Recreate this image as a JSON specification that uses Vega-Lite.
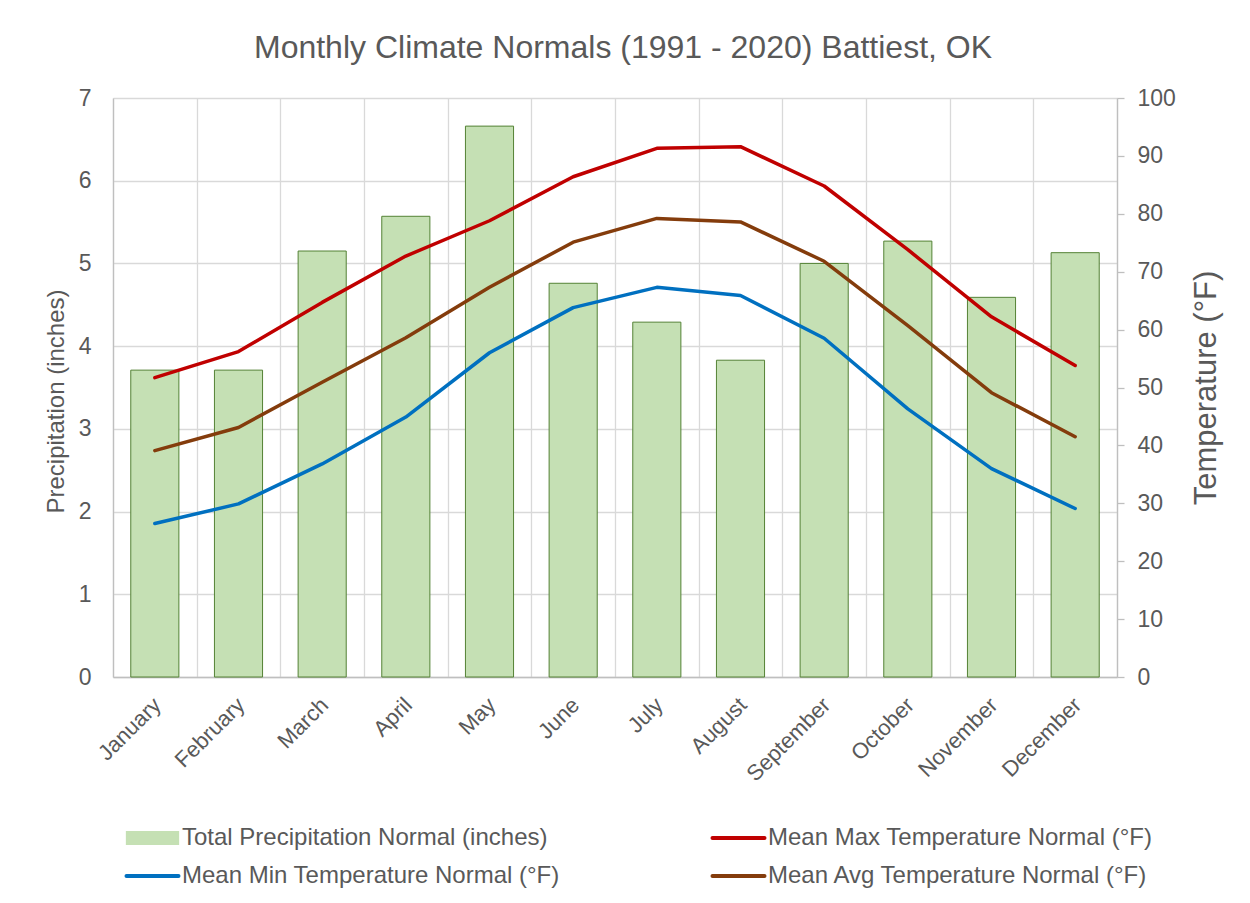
{
  "$schema": "https://vega.github.io/schema/vega-lite/v6.json",
  "width": 1004,
  "height": 579,
  "autosize": {"type": "none"},
  "padding": {"left": 113, "top": 98, "right": 133, "bottom": 226},
  "background": "white",
  "config": {"font": "Liberation Sans", "view": {"stroke": null}},
  "title": {
    "text": "Monthly Climate Normals (1991 - 2020) Battiest, OK",
    "fontSize": 32,
    "fontWeight": "normal",
    "color": "#595959",
    "anchor": "middle",
    "frame": "group",
    "offset": 22,
    "dx": 8
  },
  "datasets": {
    "precip": [
      {"month": "January", "precip": 3.71},
      {"month": "February", "precip": 3.71},
      {"month": "March", "precip": 5.15},
      {"month": "April", "precip": 5.57},
      {"month": "May", "precip": 6.66},
      {"month": "June", "precip": 4.76},
      {"month": "July", "precip": 4.29},
      {"month": "August", "precip": 3.83},
      {"month": "September", "precip": 5.0},
      {"month": "October", "precip": 5.27},
      {"month": "November", "precip": 4.59},
      {"month": "December", "precip": 5.13}
    ],
    "temps": [
      {"month": "January", "series": "Mean Max Temperature Normal (°F)", "temp": 51.7},
      {"month": "February", "series": "Mean Max Temperature Normal (°F)", "temp": 56.2},
      {"month": "March", "series": "Mean Max Temperature Normal (°F)", "temp": 64.7},
      {"month": "April", "series": "Mean Max Temperature Normal (°F)", "temp": 72.7},
      {"month": "May", "series": "Mean Max Temperature Normal (°F)", "temp": 78.8},
      {"month": "June", "series": "Mean Max Temperature Normal (°F)", "temp": 86.4},
      {"month": "July", "series": "Mean Max Temperature Normal (°F)", "temp": 91.3},
      {"month": "August", "series": "Mean Max Temperature Normal (°F)", "temp": 91.6},
      {"month": "September", "series": "Mean Max Temperature Normal (°F)", "temp": 84.8},
      {"month": "October", "series": "Mean Max Temperature Normal (°F)", "temp": 73.8},
      {"month": "November", "series": "Mean Max Temperature Normal (°F)", "temp": 62.2},
      {"month": "December", "series": "Mean Max Temperature Normal (°F)", "temp": 53.8},
      {"month": "January", "series": "Mean Avg Temperature Normal (°F)", "temp": 39.1},
      {"month": "February", "series": "Mean Avg Temperature Normal (°F)", "temp": 43.1},
      {"month": "March", "series": "Mean Avg Temperature Normal (°F)", "temp": 50.9},
      {"month": "April", "series": "Mean Avg Temperature Normal (°F)", "temp": 58.6},
      {"month": "May", "series": "Mean Avg Temperature Normal (°F)", "temp": 67.3},
      {"month": "June", "series": "Mean Avg Temperature Normal (°F)", "temp": 75.1},
      {"month": "July", "series": "Mean Avg Temperature Normal (°F)", "temp": 79.2},
      {"month": "August", "series": "Mean Avg Temperature Normal (°F)", "temp": 78.6},
      {"month": "September", "series": "Mean Avg Temperature Normal (°F)", "temp": 71.8},
      {"month": "October", "series": "Mean Avg Temperature Normal (°F)", "temp": 60.7},
      {"month": "November", "series": "Mean Avg Temperature Normal (°F)", "temp": 49.1},
      {"month": "December", "series": "Mean Avg Temperature Normal (°F)", "temp": 41.5},
      {"month": "January", "series": "Mean Min Temperature Normal (°F)", "temp": 26.5},
      {"month": "February", "series": "Mean Min Temperature Normal (°F)", "temp": 29.9},
      {"month": "March", "series": "Mean Min Temperature Normal (°F)", "temp": 36.8},
      {"month": "April", "series": "Mean Min Temperature Normal (°F)", "temp": 44.9},
      {"month": "May", "series": "Mean Min Temperature Normal (°F)", "temp": 56.0},
      {"month": "June", "series": "Mean Min Temperature Normal (°F)", "temp": 63.8},
      {"month": "July", "series": "Mean Min Temperature Normal (°F)", "temp": 67.3},
      {"month": "August", "series": "Mean Min Temperature Normal (°F)", "temp": 65.9},
      {"month": "September", "series": "Mean Min Temperature Normal (°F)", "temp": 58.5},
      {"month": "October", "series": "Mean Min Temperature Normal (°F)", "temp": 46.3},
      {"month": "November", "series": "Mean Min Temperature Normal (°F)", "temp": 36.0},
      {"month": "December", "series": "Mean Min Temperature Normal (°F)", "temp": 29.1}
    ]
  },
  "encoding": {
    "x": {
      "field": "month",
      "type": "nominal",
      "sort": null,
      "scale": {
        "domain": ["January", "February", "March", "April", "May", "June", "July", "August", "September", "October", "November", "December"],
        "paddingInner": 0,
        "paddingOuter": 0
      },
      "axis": {
        "title": null,
        "labelAngle": -45,
        "labelFontSize": 22,
        "labelColor": "#595959",
        "ticks": false,
        "tickSize": 0,
        "labelPadding": 17,
        "labelOffset": -5,
        "domainColor": "#bfbfbf",
        "domainWidth": 1.3,
        "grid": true,
        "gridColor": "#d9d9d9",
        "gridWidth": 1.3,
        "tickBand": "extent"
      }
    }
  },
  "layer": [
    {
      "data": {"name": "precip"},
      "mark": {"type": "bar", "width": {"band": 0.575}, "stroke": "#548235", "strokeWidth": 1},
      "encoding": {
        "y": {
          "field": "precip",
          "type": "quantitative",
          "scale": {"domain": [0, 7], "nice": false},
          "axis": {
            "orient": "left",
            "title": "Precipitation (inches)",
            "titleFontSize": 24,
            "titleFontWeight": "normal",
            "titleColor": "#595959",
            "titlePadding": 10,
            "titleY": 303,
            "labelFontSize": 23,
            "labelColor": "#595959",
            "labelPadding": 22,
            "ticks": false,
            "tickSize": 0,
            "domainColor": "#bfbfbf",
            "domainWidth": 1.3,
            "grid": true,
            "gridColor": "#d9d9d9",
            "gridWidth": 1.3,
            "values": [0, 1, 2, 3, 4, 5, 6, 7]
          }
        },
        "color": {
          "datum": "Total Precipitation Normal (inches)",
          "type": "nominal",
          "scale": {
            "domain": ["Total Precipitation Normal (inches)", "Mean Max Temperature Normal (°F)", "Mean Min Temperature Normal (°F)", "Mean Avg Temperature Normal (°F)"],
            "range": ["#c5e0b4", "#c00000", "#0070c0", "#843c0c"]
          },
          "legend": {
            "title": null,
            "orient": "none",
            "direction": "horizontal",
            "legendX": 27.5,
            "legendY": 728,
            "columns": 2,
            "columnPadding": 144,
            "rowPadding": 14,
            "labelFontSize": 24,
            "labelColor": "#595959",
            "labelLimit": 600,
            "labelOffset": 17.5,
            "symbolSize": 2704,
            "encode": {
              "symbols": {
                "update": {
                  "shape": {"signal": "datum.value === 'Total Precipitation Normal (inches)' ? 'M-1,-0.245H1V0.245H-1Z' : 'stroke'"},
                  "fill": {"signal": "datum.value === 'Total Precipitation Normal (inches)' ? '#c5e0b4' : 'transparent'"},
                  "stroke": {"signal": "datum.value === 'Total Precipitation Normal (inches)' ? '#548235' : (datum.value === 'Mean Max Temperature Normal (°F)' ? '#c00000' : (datum.value === 'Mean Min Temperature Normal (°F)' ? '#0070c0' : '#843c0c'))"},
                  "strokeWidth": {"signal": "datum.value === 'Total Precipitation Normal (inches)' ? 1.3 : 4"},
                  "strokeCap": {"value": "round"},
                  "opacity": {"value": 1},
                  "size": {"value": 2704}
                }
              }
            }
          }
        }
      }
    },
    {
      "data": {"name": "temps"},
      "mark": {"type": "line", "strokeWidth": 3.5, "strokeCap": "round", "strokeJoin": "round"},
      "encoding": {
        "y": {
          "field": "temp",
          "type": "quantitative",
          "scale": {"domain": [0, 100], "nice": false},
          "axis": {
            "orient": "right",
            "title": "Temperature (°F)",
            "titleFontSize": 31,
            "titleFontWeight": "normal",
            "titleColor": "#595959",
            "titleAngle": 270,
            "titlePadding": 47,
            "labelFontSize": 23,
            "labelColor": "#595959",
            "labelPadding": 13,
            "ticks": true,
            "tickSize": 7,
            "tickColor": "#bfbfbf",
            "tickWidth": 1.3,
            "domainColor": "#bfbfbf",
            "domainWidth": 1.3,
            "grid": false,
            "values": [0, 10, 20, 30, 40, 50, 60, 70, 80, 90, 100]
          }
        },
        "color": {
          "field": "series",
          "type": "nominal",
          "legend": {
            "title": null,
            "orient": "none",
            "direction": "horizontal",
            "legendX": 27.5,
            "legendY": 728,
            "columns": 2,
            "columnPadding": 144,
            "rowPadding": 14,
            "labelFontSize": 24,
            "labelColor": "#595959",
            "labelLimit": 600,
            "labelOffset": 17.5,
            "symbolSize": 2704,
            "encode": {
              "symbols": {
                "update": {
                  "shape": {"signal": "datum.value === 'Total Precipitation Normal (inches)' ? 'M-1,-0.245H1V0.245H-1Z' : 'stroke'"},
                  "fill": {"signal": "datum.value === 'Total Precipitation Normal (inches)' ? '#c5e0b4' : 'transparent'"},
                  "stroke": {"signal": "datum.value === 'Total Precipitation Normal (inches)' ? '#548235' : (datum.value === 'Mean Max Temperature Normal (°F)' ? '#c00000' : (datum.value === 'Mean Min Temperature Normal (°F)' ? '#0070c0' : '#843c0c'))"},
                  "strokeWidth": {"signal": "datum.value === 'Total Precipitation Normal (inches)' ? 1.3 : 4"},
                  "strokeCap": {"value": "round"},
                  "opacity": {"value": 1},
                  "size": {"value": 2704}
                }
              }
            }
          }
        }
      }
    }
  ],
  "resolve": {"scale": {"y": "independent"}}
}
